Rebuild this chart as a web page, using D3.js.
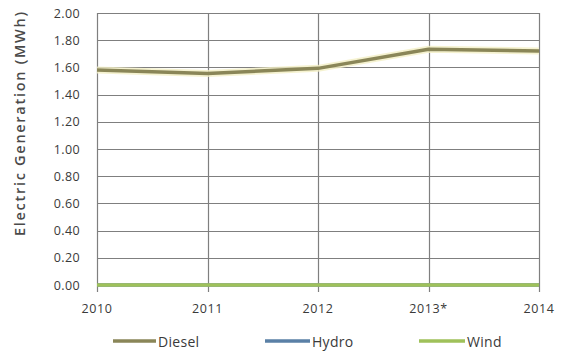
<!DOCTYPE html>
<html>
<head>
<meta charset="utf-8">
<script src="https://cdn.jsdelivr.net/npm/d3@7"></script>
<style>
  html, body { margin: 0; padding: 0; background: #fff; }
  svg { display: block; }
  text { font-family: "Open Sans", "Liberation Sans", sans-serif; fill: #3a3a3a; }
</style>
</head>
<body>
<script>
// Electric generation by source, in MWh
const years = ["2010", "2011", "2012", "2013*", "2014"];
const diesel = [1.58, 1.555, 1.593, 1.733, 1.72];
const hydro = [0, 0, 0, 0, 0];
const wind = [0, 0, 0, 0, 0];
const yTicks = [0, 0.2, 0.4, 0.6, 0.8, 1.0, 1.2, 1.4, 1.6, 1.8, 2.0];

const seriesNames = ["Diesel", "Hydro", "Wind"];
const seriesValues = [diesel, hydro, wind];
const seriesColors = ["#8a8658", "#5a80a6", "#9fc15a"];

const W = 564, H = 354;
const margin = { left: 97, right: 25, top: 13, bottom: 69 };

const svg = d3.select("body").append("svg").attr("width", W).attr("height", H);

const x = d3.scalePoint().domain(years).range([margin.left, W - margin.right]);
const y = d3.scaleLinear().domain([0, 2]).range([H - margin.bottom, margin.top]);

// horizontal gridlines
svg.append("g")
  .selectAll("line").data(yTicks).join("line")
  .attr("x1", margin.left).attr("x2", W - margin.right)
  .attr("y1", d => Math.round(y(d)) + 0.5).attr("y2", d => Math.round(y(d)) + 0.5)
  .attr("stroke", "#7f7f7f").attr("stroke-width", 1.2);

// vertical gridlines through each year, extending below as tick marks
svg.append("g")
  .selectAll("line").data(years).join("line")
  .attr("x1", d => Math.round(x(d)) + 0.5).attr("x2", d => Math.round(x(d)) + 0.5)
  .attr("y1", y(2)).attr("y2", y(0) + 7)
  .attr("stroke", "#7f7f7f").attr("stroke-width", 1.2);

// y tick labels
svg.append("g")
  .selectAll("text").data(yTicks).join("text")
  .attr("x", 80).attr("y", d => y(d))
  .attr("text-anchor", "end").attr("dominant-baseline", "central")
  .style("font-size", "12.5px").style("letter-spacing", "0.4px")
  .text(d => d.toFixed(2));

// x tick labels
svg.append("g")
  .selectAll("text").data(years).join("text")
  .attr("x", d => x(d)).attr("y", 308)
  .attr("text-anchor", "middle").attr("dominant-baseline", "central")
  .style("font-size", "12.5px").style("letter-spacing", "0.6px")
  .text(d => d);

// y axis title
svg.append("text")
  .attr("transform", "translate(19,124) rotate(-90)")
  .attr("text-anchor", "middle").attr("dominant-baseline", "central")
  .attr("textLength", 224).attr("lengthAdjust", "spacing")
  .style("font-size", "14.5px").style("font-weight", "600").style("fill", "#4a4a4a")
  .text("Electric Generation (MWh)");

const line = d3.line().x((d, i) => x(years[i])).y(d => y(d));

// soft halo under the diesel line
svg.append("path")
  .datum(diesel)
  .attr("d", line)
  .attr("fill", "none").attr("stroke", "#f3efc4").attr("stroke-width", 7)
  .attr("stroke-linejoin", "round").attr("opacity", 0.8);

// series lines, drawn in order so Wind sits on top of Hydro
seriesValues.forEach((vals, i) => {
  svg.append("path")
    .datum(vals)
    .attr("d", line)
    .attr("fill", "none")
    .attr("stroke", seriesColors[i])
    .attr("stroke-width", 3.5)
    .attr("stroke-linejoin", "round");
});

// legend
const legendItems = [
  { name: seriesNames[0], x0: 113, x1: 156 },
  { name: seriesNames[1], x0: 265, x1: 310 },
  { name: seriesNames[2], x0: 419, x1: 465 }
];
const lg = svg.append("g");
legendItems.forEach((it, i) => {
  lg.append("line")
    .attr("x1", it.x0).attr("x2", it.x1)
    .attr("y1", 341).attr("y2", 341)
    .attr("stroke", seriesColors[i]).attr("stroke-width", 3.5);
  lg.append("text")
    .attr("x", it.x1 + 2).attr("y", 341)
    .attr("dominant-baseline", "central")
    .style("font-size", "14px").style("letter-spacing", "0.3px")
    .text(it.name);
});
</script>
</body>
</html>
